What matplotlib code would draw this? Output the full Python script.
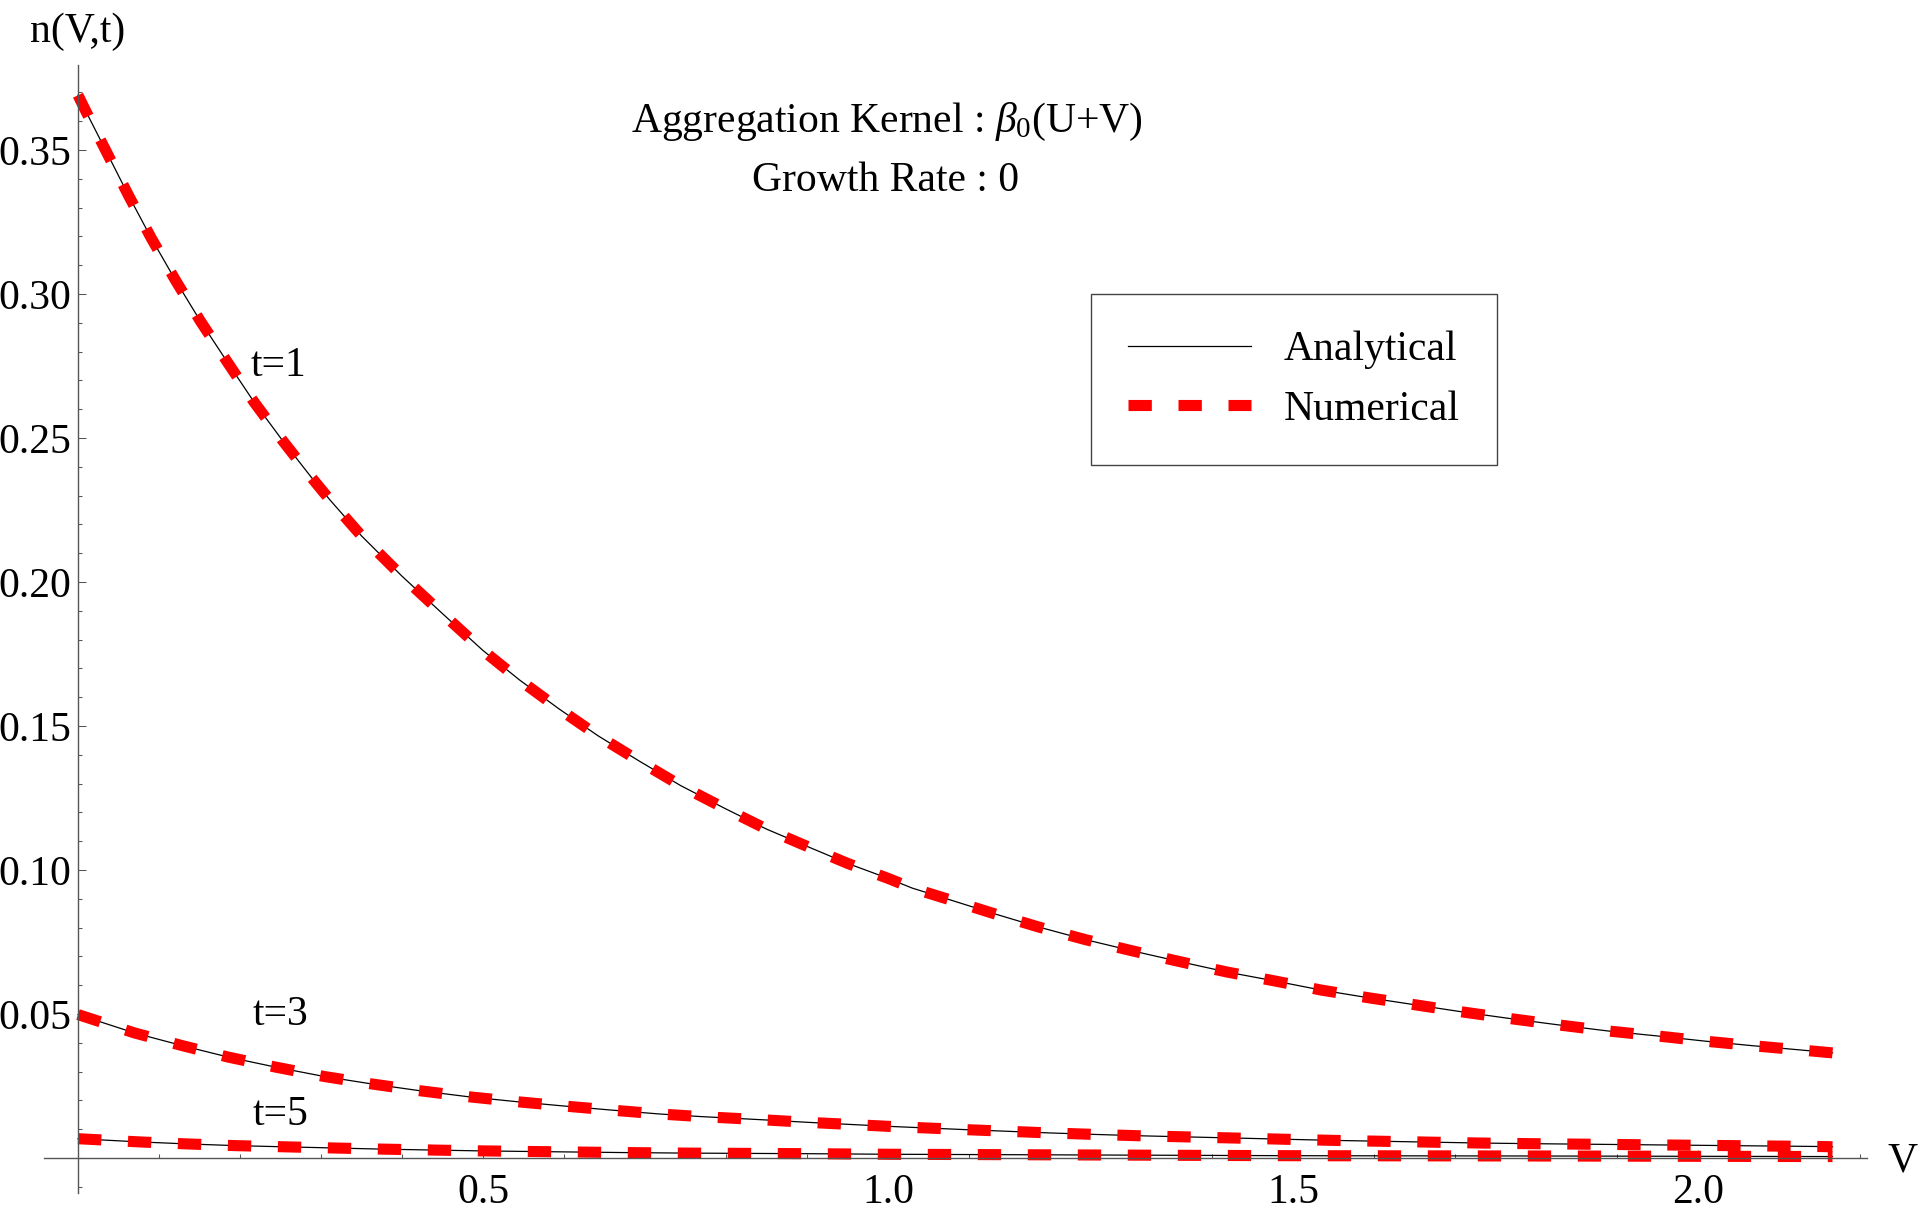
import matplotlib
matplotlib.use("Agg")
import matplotlib.pyplot as plt
import numpy as np

plt.rcParams['font.family'] = ['Liberation Serif', 'DejaVu Serif']
plt.rcParams['mathtext.fontset'] = 'custom'
plt.rcParams['mathtext.rm'] = 'Liberation Serif'
plt.rcParams['mathtext.it'] = 'Liberation Serif:italic'

# ---- data ----
v_t1 = [0.000, 0.011, 0.035, 0.062, 0.090, 0.120, 0.151, 0.184, 0.217, 0.252, 0.289, 0.311,
        0.350, 0.400, 0.450, 0.500, 0.545, 0.593, 0.642, 0.693, 0.744, 0.797, 0.850, 0.906,
        0.950, 1.000, 1.030, 1.077, 1.129, 1.186, 1.244, 1.302, 1.360, 1.418, 1.477, 1.535,
        1.594, 1.653, 1.712, 1.771, 1.831, 1.889, 1.949, 2.008, 2.067, 2.127, 2.166]
n_t1 = [0.3690, 0.3627, 0.3494, 0.3344, 0.3196, 0.3049, 0.2906, 0.2765, 0.2626, 0.2493, 0.2360, 0.2285,
        0.2160, 0.2020, 0.1890, 0.1762, 0.1660, 0.1561, 0.1466, 0.1378, 0.1293, 0.1216, 0.1142, 0.1075,
        0.1023, 0.0971, 0.0937, 0.0896, 0.0850, 0.0802, 0.0758, 0.0719, 0.0682, 0.0646, 0.0615, 0.0583,
        0.0556, 0.0531, 0.0506, 0.0483, 0.0461, 0.0441, 0.0424, 0.0406, 0.0390, 0.0375, 0.0365]

v_t3 = [0.000, 0.070, 0.129, 0.186, 0.245, 0.304, 0.363, 0.421, 0.481, 0.540, 0.598, 0.656,
        0.717, 0.768, 0.850, 0.900, 1.000, 1.100, 1.200, 1.254, 1.313, 1.373, 1.433, 1.492,
        1.553, 1.612, 1.671, 1.731, 1.787, 1.968, 2.148, 2.166]
n_t3 = [0.0498, 0.0434, 0.0390, 0.0350, 0.0315, 0.0283, 0.0257, 0.0234, 0.0213, 0.0196, 0.0181, 0.0167,
        0.0153, 0.0144, 0.0132, 0.0124, 0.0110, 0.0098, 0.0087, 0.0082, 0.0077, 0.0073, 0.0069, 0.0065,
        0.0061, 0.0058, 0.0055, 0.0052, 0.0050, 0.0045, 0.0040, 0.0039]

v_t5 = [0.000, 0.075, 0.134, 0.194, 0.253, 0.313, 0.373, 0.431, 0.491, 0.546, 0.670, 0.753,
        0.900, 1.000, 1.200, 1.500, 1.800, 2.166]
n_t5 = [0.0067, 0.0056, 0.0049, 0.0043, 0.0039, 0.0035, 0.0031, 0.0028, 0.0025, 0.0023, 0.0019, 0.0017,
        0.0015, 0.0013, 0.0011, 0.0008, 0.0007, 0.0005]

curve_labels = ["t=1", "t=3", "t=5"]
label_pos = [(0.247, 0.2715), (0.250, 0.0462), (0.250, 0.0115)]
x_major = [0.5, 1.0, 1.5, 2.0]
x_major_labels = ["0.5", "1.0", "1.5", "2.0"]
y_major = [0.05, 0.10, 0.15, 0.20, 0.25, 0.30, 0.35]
y_major_labels = ["0.05", "0.10", "0.15", "0.20", "0.25", "0.30", "0.35"]

W, H = 1920, 1208
fig = plt.figure(figsize=(W / 100, H / 100), dpi=100)
ax = fig.add_axes([44 / W, 1 - 1193 / H, (1867 - 44) / W, (1193 - 65) / H])
ax.set_xlim(-0.042, 2.2086)
ax.set_ylim(-0.01215, 0.3795)

FS = 30
axis_col = '#555555'
red = '#ff0000'

for i, (vv, nn) in enumerate([(v_t1, n_t1), (v_t3, n_t3), (v_t5, n_t5)]):
    ax.plot(vv, nn, color='black', lw=0.9, zorder=2, label='Analytical' if i == 0 else None)
    ax.plot(vv, nn, color=red, lw=8, dashes=(2.1, 2.4), dash_capstyle='butt',
            solid_capstyle='butt', zorder=2.2, label='Numerical' if i == 0 else None)

for lab, (x, y) in zip(curve_labels, label_pos):
    ax.text(x, y, lab, fontsize=FS, ha='center', va='baseline')

# axes through origin
for s in ['top', 'right']:
    ax.spines[s].set_visible(False)
ax.spines['left'].set_position(('data', 0))
ax.spines['bottom'].set_position(('data', 0))
for s in ['left', 'bottom']:
    ax.spines[s].set_color(axis_col)
    ax.spines[s].set_linewidth(1.0)
    ax.spines[s].set_zorder(3)

ax.set_xticks(x_major)
ax.set_xticklabels(x_major_labels)
ax.set_xticks([round(0.1 * k, 1) for k in range(1, 23)], minor=True)
ax.set_yticks(y_major)
ax.set_yticklabels(y_major_labels)
ax.set_yticks([round(0.01 * k, 2) for k in range(-1, 38)], minor=True)

ax.tick_params(axis='both', which='both', direction='in', color=axis_col, width=0.75,
               labelsize=FS, labelcolor='black')
ax.tick_params(axis='both', which='major', length=5.8)
ax.tick_params(axis='both', which='minor', length=3.2)
ax.tick_params(axis='x', which='major', pad=11)
ax.tick_params(axis='y', which='major', pad=5)

# axis labels
fig.text(78 / W, 1 - 42 / H, 'n(V,t)', fontsize=FS, ha='center', va='baseline')
fig.text(1903 / W, 1 - 1172 / H, 'V', fontsize=FS, ha='center', va='baseline')

# title lines
fig.text(887 / W, 1 - 132 / H, r'Aggregation Kernel : $\it{\beta}_{0}$(U+V)', fontsize=FS,
         ha='center', va='baseline')
fig.text(886 / W, 1 - 191 / H, 'Growth Rate : 0', fontsize=FS, ha='center', va='baseline')

leg = ax.legend(loc='upper left', bbox_to_anchor=(1091 / W, 1 - 294 / H),
                bbox_transform=fig.transFigure, borderaxespad=0, fontsize=FS,
                fancybox=False, framealpha=1, edgecolor='#444444', borderpad=0.88,
                labelspacing=0.5, handlelength=2.95, handletextpad=0.8)
leg.get_frame().set_linewidth(1.0)

fig.savefig('out.png', dpi=100)
